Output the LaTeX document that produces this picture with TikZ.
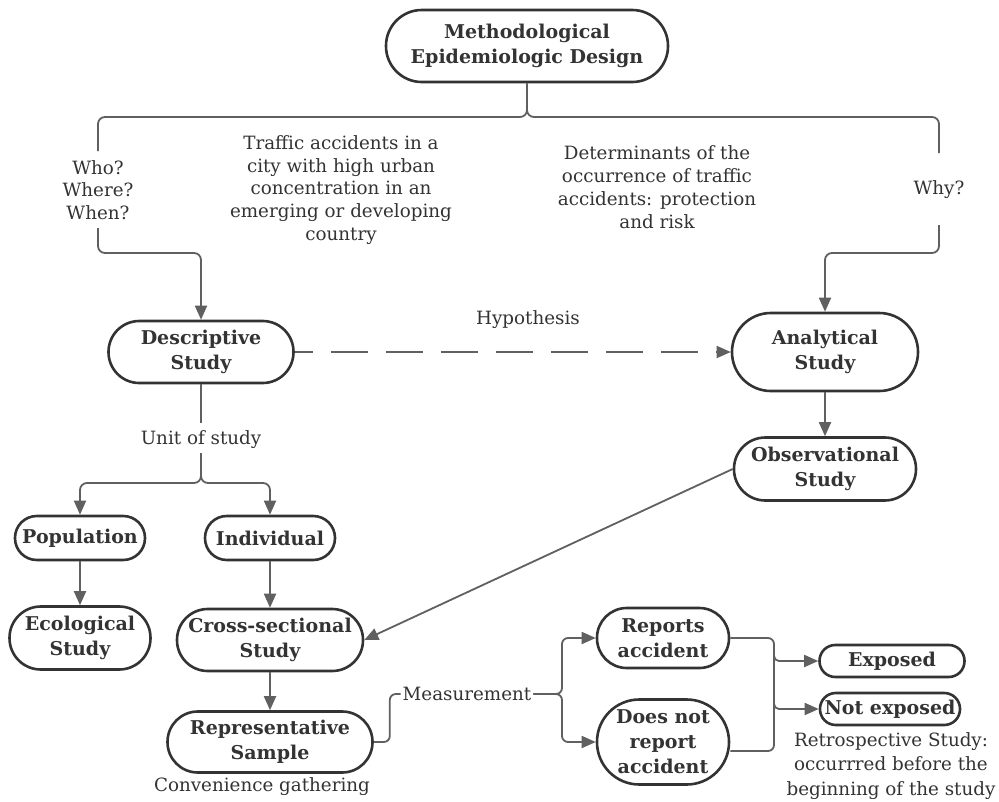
\documentclass[tikz,border=0pt]{standalone}
\usepackage{fontspec}
\setmainfont{DejaVu Serif}
\usetikzlibrary{arrows.meta}
\definecolor{ink}{HTML}{333333}
\definecolor{wirec}{HTML}{606060}
\begin{document}
\begin{tikzpicture}[x=1pt,y=-1pt,
  box/.style={rectangle, draw=ink, line width=2.6pt, text=ink,
    font=\bfseries\fontsize{19}{25}\selectfont, align=center, inner sep=0pt},
  note/.style={text=ink, font=\fontsize{18.3}{22.8}\selectfont, align=center, inner sep=0pt},
  wire/.style={draw=wirec, line width=1.8pt},
  arr/.style={wire, -{Triangle[length=14pt,width=12pt]}},
]
\useasboundingbox[fill=white] (0,0) rectangle (999,801);

% ---- study boxes ----
\node[box, minimum width=282pt, minimum height=72pt, rounded corners=35.8pt] (top) at (527,46) {Methodological\\Epidemiologic Design};
\node[box, minimum width=185pt, minimum height=62pt, rounded corners=30.8pt] (desc) at (201,352) {Descriptive\\Study};
\node[box, minimum width=186pt, minimum height=78pt, rounded corners=38.8pt] (anal) at (825,352) {Analytical\\Study};
\node[box, minimum width=182pt, minimum height=63pt, rounded corners=31.3pt] (obs) at (825,469) {Observational\\Study};
\node[box, minimum width=130pt, minimum height=44pt, rounded corners=21.8pt] (pop) at (80,538) {Population};
\node[box, minimum width=130pt, minimum height=44pt, rounded corners=21.8pt] (ind) at (270,538) {Individual};
\node[box, minimum width=141pt, minimum height=63pt, rounded corners=31.3pt] (eco) at (80,638) {Ecological\\Study};
\node[box, minimum width=186pt, minimum height=62pt, rounded corners=30.8pt] (cross) at (270,640) {Cross-sectional\\Study};
\node[box, minimum width=205pt, minimum height=61pt, rounded corners=30.3pt] (rep) at (270,742) {Representative\\Sample};
\node[box, minimum width=132pt, minimum height=60pt, rounded corners=29.8pt] (rpt) at (663,638) {Reports\\accident};
\node[box, minimum width=132pt, minimum height=85pt, rounded corners=42.3pt] (dnr) at (663,742) {Does not\\report\\accident};
\node[box, minimum width=145pt, minimum height=32pt, rounded corners=15.8pt] (exp) at (892,661) {Exposed};
\node[box, minimum width=140pt, minimum height=32pt, rounded corners=15.8pt] (nexp) at (890,709) {Not exposed};

% ---- plain labels ----
\node[note] (who) at (98,190) {Who?\\Where?\\When?};
\node[note] (why) at (939,190) {Why?};
\node[note] (traffic) at (341,190) {Traffic accidents in a\\city with high urban\\concentration in an\\emerging or developing\\country};
\node[note] (det) at (657,187) {Determinants of the\\occurrence of traffic\\accidents: protection\\and risk};
\node[note] (hyp) at (528,320) {Hypothesis};
\node[note] (unit) at (201,440) {Unit of study};
\node[note, inner xsep=2pt] (meas) at (467,694) {Measurement};
\node[note] (conv) at (262,787) {Convenience gathering};
\node[note, font=\fontsize{18.3}{24.5}\selectfont] (retro) at (891,766) {Retrospective Study:\\occurrred before the\\beginning of the study};

% ---- break points of the split lines ----
\coordinate (whoTop) at (98,151);
\coordinate (whoBot) at (98,228);
\coordinate (whyTop) at (939,153);
\coordinate (whyBot) at (939,225);
\coordinate (unitTop) at (201,423);
\coordinate (unitBot) at (201,453);
\coordinate (expFork) at (774,649);
\coordinate (nexpFork) at (774,696);

% ---- connectors ----
\draw[wire, rounded corners=7pt] (top.south) |- (98,117) -- (whoTop);
\draw[wire, rounded corners=7pt] (top.south) |- (939,117) -- (whyTop);
\draw[arr, rounded corners=7pt] (whoBot) -- (98,253) -| (desc.north);
\draw[arr, rounded corners=7pt] (whyBot) -- (939,253) -| (anal.north);

\draw[arr, dash pattern=on 37pt off 18pt, dash phase=19pt] (desc.east) -- (anal.west);

\draw[wire] (desc.south) -- (unitTop);
\draw[arr, rounded corners=7pt] (unitBot) -- (201,483) -| (pop.north);
\draw[arr, rounded corners=7pt] (unitBot) -- (201,483) -| (ind.north);

\draw[arr] (anal.south) -- (obs.north);
\draw[arr] (obs.west) -- (cross.east);
\draw[arr] (pop.south) -- (eco.north);
\draw[arr] (ind.south) -- (cross.north);
\draw[arr] (cross.south) -- (rep.north);

\draw[wire, rounded corners=6pt] (rep.east) -- ++(16,0) |- (meas.west);
\draw[arr, rounded corners=6pt] (meas.east) -- (562,694) |- (rpt.west);
\draw[arr, rounded corners=6pt] (meas.east) -- (562,694) |- (dnr.west);

\draw[wire, rounded corners=6pt] (rpt.east) -| (774,700) |- ([yshift=-9pt]dnr.east);
\draw[arr, rounded corners=5pt] (expFork) |- (exp.west);
\draw[arr, rounded corners=5pt] (nexpFork) |- (nexp.west);
\end{tikzpicture}
\end{document}
